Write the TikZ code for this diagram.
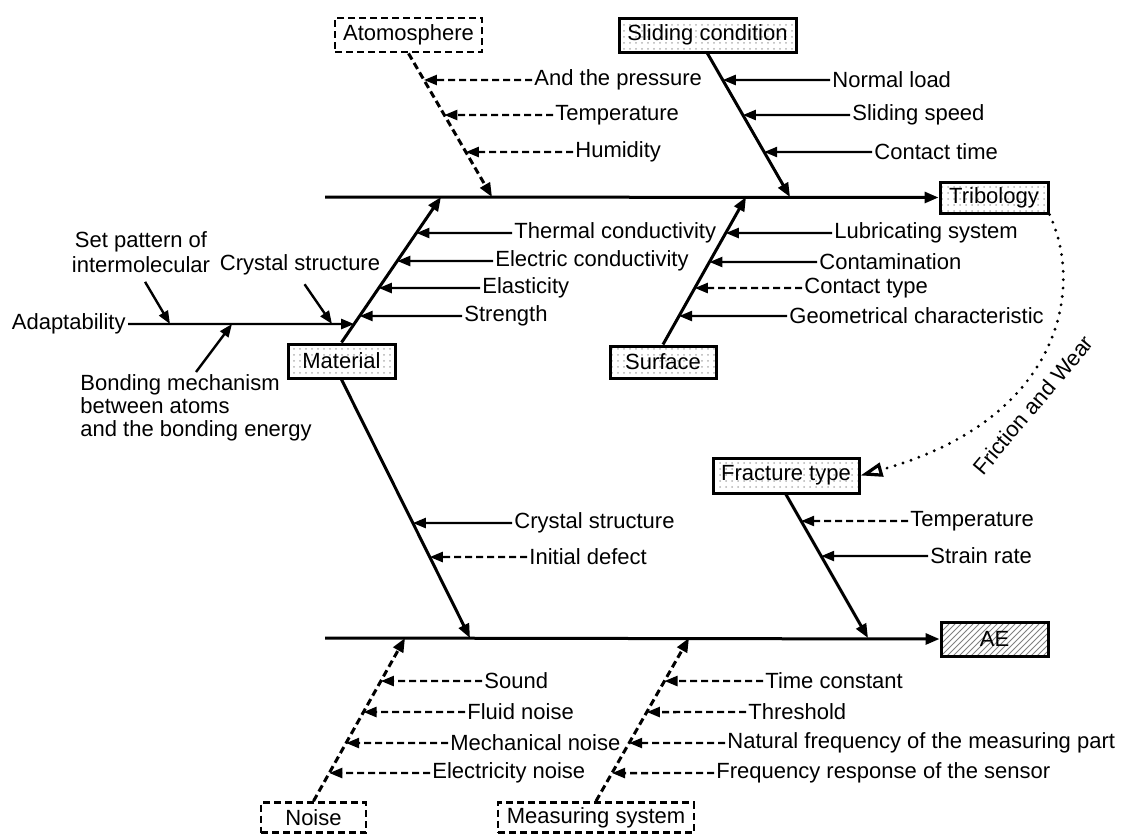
\documentclass[tikz,border=0pt]{standalone}
\usepackage{fontspec}
\setmainfont{Liberation Sans}
\usepackage{tikz}
\usetikzlibrary{patterns}
\usetikzlibrary{arrows.meta}
\usetikzlibrary{calc}
\tikzset{>=latex}
\tikzstyle{bone}=[line width=1.5pt,-{Triangle[length=7,width=5.5]}]
\tikzstyle{dbone}=[bone,dash pattern=on 3.5pt off 2pt]
\tikzstyle{feed}=[line width=1.2pt,-{Triangle[length=6.5,width=5]}]
\tikzstyle{dfeed}=[feed,dash pattern=on 3.5pt off 2pt]
\tikzstyle{cause}=[draw,line width=1.5pt,pattern=dots,pattern color=gray!60,inner sep=0pt,minimum height=17pt]
\tikzstyle{dcause}=[draw,line width=1.4pt,dash pattern=on 3.5pt off 2pt,inner sep=0pt,minimum height=15pt]
\tikzstyle{lbl}=[anchor=west,inner sep=1pt]

\begin{document}
\begin{tikzpicture}[x=0.5pt,y=-0.5pt,font=\fontsize{11pt}{12.5pt}\selectfont]
  \useasboundingbox (0,0) rectangle (1125,835);
  % heads and spines
  \node[cause,minimum width=54pt,minimum height=15.5pt] (trib) at (994,197.5) {Tribology};
  \node[cause,minimum width=53.5pt,pattern=north east lines,pattern color=gray] (ae) at (994.5,639) {AE};
  \coordinate (t0) at (325,197);
  \coordinate (b0) at (325,638);
  \draw[bone] (t0) -- (trib.west);
  \draw[bone] (b0) -- (ae.west);

  % atmosphere
  \node[dcause,minimum width=73.5pt,minimum height=17pt] (atm) at (408.5,35) {Atomosphere};
  \coordinate (atmE) at (492,197);
  \draw[dbone] (atm.south) -- (atmE);
  \node[lbl] (a1) at (532,80) {And the pressure};
  \node[lbl] (a2) at (553,115) {Temperature};
  \node[lbl] (a3) at (573,152) {Humidity};
  \draw[dfeed] (a1.west) -- (intersection of atm.south--atmE and a1.west--a1.east);
  \draw[dfeed] (a2.west) -- (intersection of atm.south--atmE and a2.west--a2.east);
  \draw[dfeed] (a3.west) -- (intersection of atm.south--atmE and a3.west--a3.east);

  % sliding condition
  \node[cause,minimum width=88.5pt] (slide) at (707.5,35) {Sliding condition};
  \coordinate (slideE) at (790,197);
  \draw[bone] (slide.south) -- (slideE);
  \node[lbl] (s1) at (830,80) {Normal load};
  \node[lbl] (s2) at (850,115) {Sliding speed};
  \node[lbl] (s3) at (872,152) {Contact time};
  \draw[feed] (s1.west) -- (intersection of slide.south--slideE and s1.west--s1.east);
  \draw[feed] (s2.west) -- (intersection of slide.south--slideE and s2.west--s2.east);
  \draw[feed] (s3.west) -- (intersection of slide.south--slideE and s3.west--s3.east);

  % material
  \node[cause,minimum width=53.5pt] (mat) at (341.5,361) {Material};
  \coordinate (matE) at (441,197);
  \coordinate (matL) at (470,638);
  \draw[bone] (mat.north) -- (matE);
  \draw[bone] (mat.south) -- (matL);
  \node[lbl] (m1) at (512,233) {Thermal conductivity};
  \node[lbl] (m2) at (493,261) {Electric conductivity};
  \node[lbl] (m3) at (480,288) {Elasticity};
  \node[lbl] (m4) at (462,316) {Strength};
  \draw[feed] (m1.west) -- (intersection of mat.north--matE and m1.west--m1.east);
  \draw[feed] (m2.west) -- (intersection of mat.north--matE and m2.west--m2.east);
  \draw[feed] (m3.west) -- (intersection of mat.north--matE and m3.west--m3.east);
  \draw[feed] (m4.west) -- (intersection of mat.north--matE and m4.west--m4.east);
  \node[lbl] (c1) at (512,523) {Crystal structure};
  \node[lbl] (c2) at (527,557) {Initial defect};
  \draw[feed] (c1.west) -- (intersection of mat.south--matL and c1.west--c1.east);
  \draw[dfeed] (c2.west) -- (intersection of mat.south--matL and c2.west--c2.east);

  % small bone on the left
  \node[anchor=east,inner sep=1pt] (ad) at (128,324) {Adaptability};
  \draw[feed] (ad.east) -- (intersection of mat.north--matE and ad.west--ad.east);
  \node[align=center,inner sep=1pt] (sp) at (141,252) {Set pattern of\\intermolecular};
  \coordinate (spE) at (170,324);
  \draw[feed,shorten <=4pt] (sp.south) -- (spE);
  \node[inner sep=1pt] (cs) at (300,265) {Crystal structure};
  \coordinate (csE) at (332,324);
  \draw[feed,shorten <=4pt] (cs.south) -- (csE);
  \node[anchor=north west,align=left,inner sep=1pt,font=\fontsize{11pt}{11.5pt}\selectfont] (bm) at (78,372) {Bonding mechanism\\between atoms\\and the bonding energy};
  \coordinate (bmE) at (232,324);
  \draw[feed] (bm.north) -- (bmE);

  % surface
  \node[cause,minimum width=53pt,minimum height=16pt] (surf) at (663,362) {Surface};
  \coordinate (surfE) at (746,197);
  \draw[bone] (surf.north) -- (surfE);
  \node[lbl] (f1) at (832,233) {Lubricating system};
  \node[lbl] (f2) at (817,262) {Contamination};
  \node[lbl] (f3) at (802,288) {Contact type};
  \node[lbl] (f4) at (787,316) {Geometrical characteristic};
  \draw[feed] (f1.west) -- (intersection of surf.north--surfE and f1.west--f1.east);
  \draw[feed] (f2.west) -- (intersection of surf.north--surfE and f2.west--f2.east);
  \draw[dfeed] (f3.west) -- (intersection of surf.north--surfE and f3.west--f3.east);
  \draw[feed] (f4.west) -- (intersection of surf.north--surfE and f4.west--f4.east);

  % fracture type
  \node[cause,minimum width=73pt,minimum height=17.5pt] (frac) at (786,475.5) {Fracture type};
  \coordinate (fracE) at (868,638);
  \draw[bone] (frac.south) -- (fracE);
  \node[lbl] (r1) at (908,521) {Temperature};
  \node[lbl] (r2) at (928,556) {Strain rate};
  \draw[dfeed] (r1.west) -- (intersection of frac.south--fracE and r1.west--r1.east);
  \draw[feed] (r2.west) -- (intersection of frac.south--fracE and r2.west--r2.east);

  % friction and wear link
  \draw[line width=1.6pt,dash pattern=on 0pt off 4.2pt,line cap=round,-{Triangle[open,length=11,width=7]}] (trib.south east) .. controls (1085,290) and (1060,420) .. (frac.east);
  \node[rotate=50,inner sep=1pt] (fw) at (1033,405) {Friction and Wear};

  % noise
  \node[dcause,minimum width=52.5pt] (noise) at (313.5,817.5) {Noise};
  \coordinate (noiseE) at (405,638);
  \draw[dbone] (noise.north) -- (noiseE);
  \node[lbl] (n1) at (482,681) {Sound};
  \node[lbl] (n2) at (465,712) {Fluid noise};
  \node[lbl] (n3) at (448,743) {Mechanical noise};
  \node[lbl] (n4) at (430,773) {Electricity noise};
  \draw[dfeed] (n1.west) -- (intersection of noise.north--noiseE and n1.west--n1.east);
  \draw[dfeed] (n2.west) -- (intersection of noise.north--noiseE and n2.west--n2.east);
  \draw[dfeed] (n3.west) -- (intersection of noise.north--noiseE and n3.west--n3.east);
  \draw[dfeed] (n4.west) -- (intersection of noise.north--noiseE and n4.west--n4.east);

  % measuring system
  \node[dcause,minimum width=98pt] (meas) at (596,817.5) {Measuring system};
  \coordinate (measE) at (689,638);
  \draw[dbone] (meas.north) -- (measE);
  \node[lbl] (q1) at (763,681) {Time constant};
  \node[lbl] (q2) at (746,712) {Threshold};
  \node[lbl] (q3) at (725,743) {Natural frequency of the measuring part};
  \node[lbl] (q4) at (714,773) {Frequency response of the sensor};
  \draw[dfeed] (q1.west) -- (intersection of meas.north--measE and q1.west--q1.east);
  \draw[dfeed] (q2.west) -- (intersection of meas.north--measE and q2.west--q2.east);
  \draw[dfeed] (q3.west) -- (intersection of meas.north--measE and q3.west--q3.east);
  \draw[dfeed] (q4.west) -- (intersection of meas.north--measE and q4.west--q4.east);
\end{tikzpicture}
\end{document}
